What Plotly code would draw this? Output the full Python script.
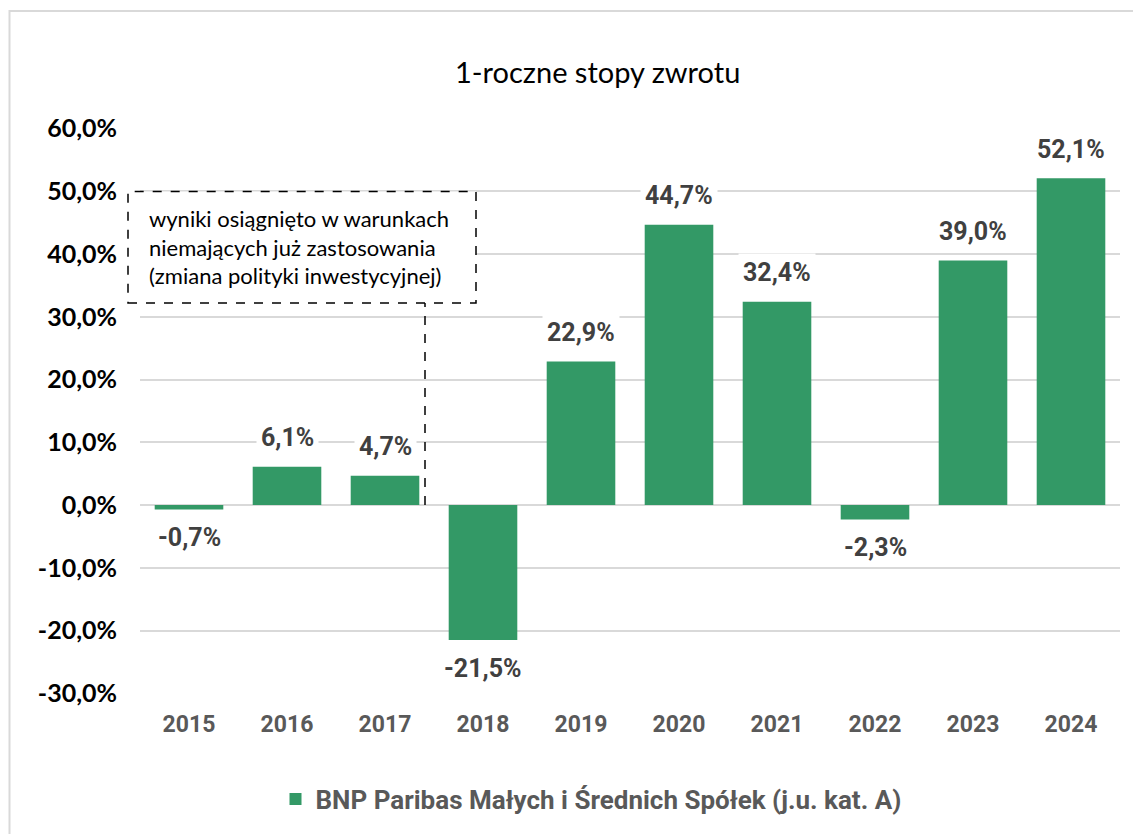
import plotly.graph_objects as go

years = ["2015", "2016", "2017", "2018", "2019", "2020", "2021", "2022", "2023", "2024"]
returns = [-0.7, 6.1, 4.7, -21.5, 22.9, 44.7, 32.4, -2.3, 39.0, 52.1]
value_labels = ["-0,7%", "6,1%", "4,7%", "-21,5%", "22,9%", "44,7%", "32,4%", "-2,3%", "39,0%", "52,1%"]
y_tickvals = [-30, -20, -10, 0, 10, 20, 30, 40, 50, 60]
y_ticktext = ["-30,0%", "-20,0%", "-10,0%", "0,0%", "10,0%", "20,0%", "30,0%", "40,0%", "50,0%", "60,0%"]
series_name = "BNP Paribas Małych i Średnich Spółek (j.u. kat. A)"
title_text = "1-roczne stopy zwrotu"
note_lines = ["wyniki osiągnięto w warunkach", "niemających już zastosowania", "(zmiana polityki inwestycyjnej)"]

GREEN = "#339966"
GRID = "#d9d9d9"
LABEL = "#404040"
TICKX = "#595959"

# page offset of the figure (browser body margin)
OFF = 8
PL, PR, PT, PB = 140, 1120, 128, 694   # plot area in page pixels
PW, PH = PR - PL, PB - PT


def px_x(px):
    return (px - PL) / PW


def px_y(py):
    return (PB - py) / PH


fig = go.Figure()
fig.add_trace(go.Bar(
    x=years, y=returns, name=series_name,
    marker=dict(color=GREEN, line=dict(width=0)),
    showlegend=True,
))

# data labels (x given as category index)
for i, (v, lab) in enumerate(zip(returns, value_labels)):
    fig.add_annotation(
        x=i, y=v, xref="x", yref="y", text=lab, showarrow=False,
        yanchor="middle", yshift=29 if v >= 0 else -28,
        font=dict(family="Roboto", size=25, color=LABEL, weight="bold"),
        bgcolor="white", borderpad=4,
    )

# title
fig.add_annotation(
    x=px_x(597), y=px_y(72), xref="paper", yref="paper",
    text=title_text, showarrow=False, xanchor="center", yanchor="middle",
    font=dict(family="Lato", size=29, color="#000000"),
)

# note box
fig.add_shape(type="rect", xref="paper", yref="y", x0=px_x(128), x1=px_x(476), y0=32.2, y1=50,
              line=dict(color="#000000", width=1.5, dash="dash"), fillcolor="white", layer="above")
fig.add_shape(type="line", xref="paper", yref="y", x0=px_x(425), x1=px_x(425), y0=0, y1=32.2,
              line=dict(color="#000000", width=1.5, dash="dash"), layer="above")
fig.add_annotation(
    x=px_x(147), y=41.1, xref="paper", yref="y", text="<br>".join(note_lines), showarrow=False,
    xanchor="left", yanchor="middle", align="left",
    font=dict(family="Lato", size=22, color="#000000"),
)

# outer border
fig.add_shape(type="rect", xref="paper", yref="paper",
              x0=px_x(9.5), x1=px_x(1160), y0=px_y(860), y1=px_y(11),
              line=dict(color=GRID, width=2), layer="below")

fig.update_layout(
    width=1141 - OFF, height=834 - OFF,
    margin=dict(l=PL - OFF, r=1141 - PR, t=PT - OFF, b=834 - PB),
    paper_bgcolor="white", plot_bgcolor="white",
    bargap=0.3,
    showlegend=True,
    legend=dict(
        orientation="h", x=px_x(591), xanchor="center",
        y=px_y(799), yanchor="middle",
        font=dict(family="Roboto", size=26, color=TICKX, weight="bold"),
        itemwidth=30,
    ),
    xaxis=dict(
        type="category", range=[-0.5, 9.5], autorange=False,
        showgrid=False, showline=False, ticks="",
        tickfont=dict(family="Roboto", size=23, color=TICKX, weight="bold"),
        ticklabelstandoff=14,
    ),
    yaxis=dict(
        range=[-30.1, 60.1], tickvals=y_tickvals, ticktext=y_ticktext,
        showgrid=True, gridcolor=GRID, gridwidth=1.5,
        zeroline=True, zerolinecolor=GRID, zerolinewidth=1.5,
        showline=False, ticks="",
        tickfont=dict(family="Lato", size=25, color="#000000", weight="bold"),
        ticklabelstandoff=22,
    ),
)

fig.write_html("out.html")
